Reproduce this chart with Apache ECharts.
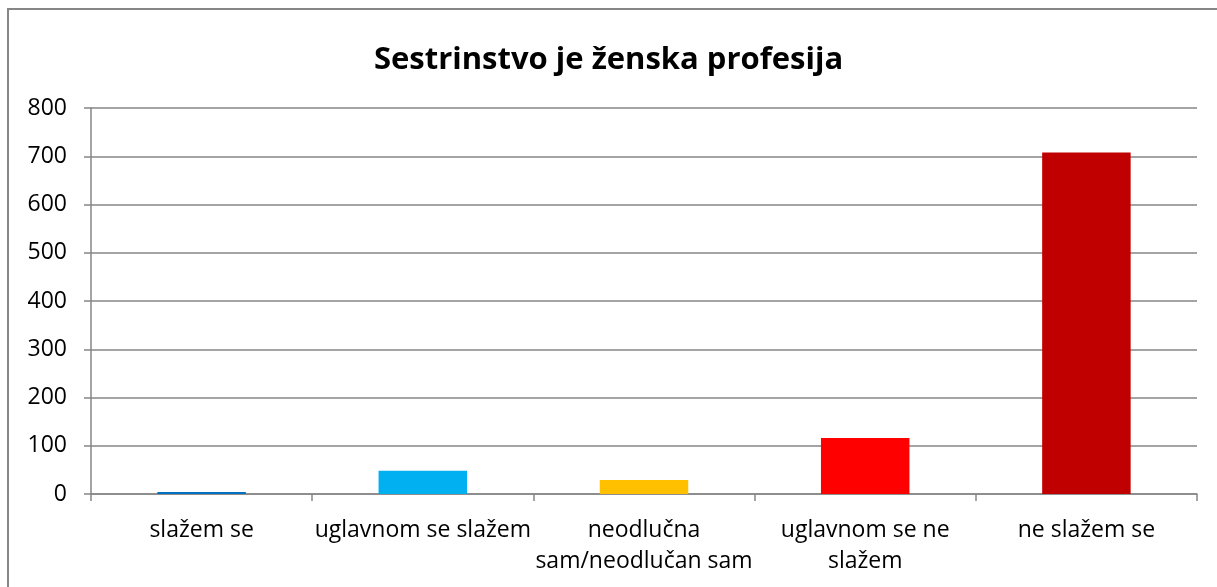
<!DOCTYPE html>
<html>
<head>
<meta charset="utf-8">
<script src="https://cdn.jsdelivr.net/npm/echarts@6/dist/echarts.min.js"></script>
<style>
  html, body { margin: 0; padding: 0; background: #fff; }
  #main { width: 1217px; height: 587px; }
</style>
</head>
<body>
<div id="main"></div>
<script>
const titleText = 'Sestrinstvo je ženska profesija';
const categories = ['slažem se', 'uglavnom se slažem', 'neodlučna\nsam/neodlučan sam', 'uglavnom se ne\nslažem', 'ne slažem se'];
const values = [4, 48, 29, 116, 708];
const barColors = ['#0070C0', '#00B0F0', '#FFC000', '#FF0000', '#C00000'];
const yTicks = [0, 100, 200, 300, 400, 500, 600, 700, 800];

const font = '"Open Sans", "Liberation Sans", sans-serif';
const gray = '#868686';

const myChart = echarts.init(document.getElementById('main'));
const option = {
    animation: false,
    backgroundColor: '#fff',
    title: {
        text: titleText,
        left: 'center',
        top: 40,
        textStyle: { fontFamily: font, fontWeight: 'bold', fontSize: 31, color: '#000' }
    },
    graphic: [{
        type: 'rect',
        shape: { x: 8, y: 9, width: 1230, height: 600 },
        style: { fill: 'none', stroke: gray, lineWidth: 2 },
        silent: true
    }],
    grid: { left: 91, right: 20, top: 108, bottom: 93 },
    xAxis: {
        type: 'category',
        data: categories,
        axisLine: { lineStyle: { color: gray, width: 1.5 } },
        axisTick: { show: true, length: 7, lineStyle: { color: gray, width: 1.5 } },
        axisLabel: { color: '#000', fontFamily: font, fontSize: 23, margin: 21, lineHeight: 31, interval: 0 }
    },
    yAxis: {
        type: 'value',
        min: yTicks[0],
        max: yTicks[yTicks.length - 1],
        interval: 100,
        axisLine: { show: true, lineStyle: { color: gray, width: 1.5 } },
        axisTick: { show: true, inside: false, length: 7, lineStyle: { color: gray, width: 1.5 } },
        splitLine: { lineStyle: { color: gray, width: 1.5 } },
        axisLabel: { color: '#000', fontFamily: font, fontSize: 23, margin: 24 }
    },
    series: [{
        type: 'bar',
        barWidth: '40%',
        data: values.map((v, i) => ({ value: v, itemStyle: { color: barColors[i] } }))
    }]
};
myChart.setOption(option);
</script>
</body>
</html>
